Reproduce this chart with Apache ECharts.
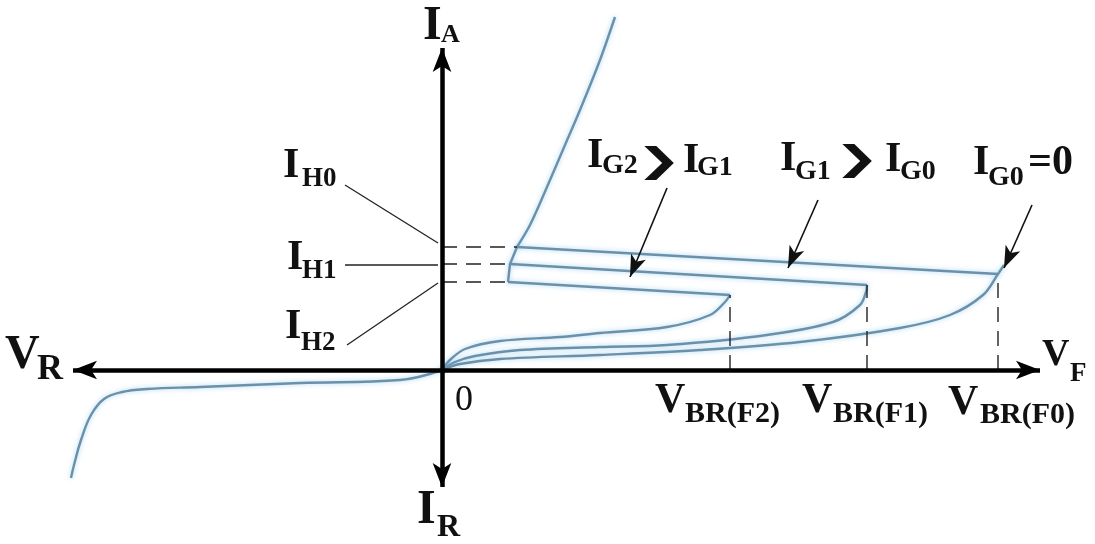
<!DOCTYPE html>
<html>
<head>
<meta charset="utf-8">
<script src="https://cdn.jsdelivr.net/npm/echarts@6/dist/echarts.min.js"></script>
<style>html,body{margin:0;padding:0;background:#fff}#chart{width:1095px;height:544px}</style>
</head>
<body>
<div id="chart"></div>
<script>
// Thyristor (SCR) static characteristic, anode voltage V vs anode current I (arbitrary units)

// Forward blocking branches from the origin up to breakover, one per gate current
const blockingIG2 = [[0,0],[0.8,1.0],[2.3,2.1],[5.8,2.9],[11.8,3.3],[15.8,3.7],[22.5,4.3],[26.8,5.5],[28.3,6.8],[28.8,7.5]];
const blockingIG1 = [[0,0],[1.3,0.8],[3.3,1.4],[7.8,2.0],[15.8,2.3],[22.5,2.5],[32.5,3.5],[39.1,4.8],[41.8,6.5],[42.4,7.8],[42.5,8.5]];
const blockingIG0 = [[0,0],[1.8,0.6],[5.8,1.1],[15.8,1.5],[25.8,2.0],[35.8,2.8],[45.8,4.2],[50.8,5.5],[54.1,7.5],[55.6,9.6],[56.2,10.5]];

// Breakover points (VBR(F2), VBR(F1), VBR(F0)) and the current at breakover
const breakoverV = [28.8, 42.5, 55.6];
const breakoverI = [7.5, 8.5, 9.6];

// Holding points IH2, IH1, IH0 (voltage, current)
const holdV = [6.6, 6.8, 7.5];
const holdI = [8.8, 10.6, 12.3];

// On-state (conducting) branch above IH0
const onState = [[7.5,12.3],[8.8,14.5],[10.5,18.3],[12.3,22.5],[13.8,26.0],[15.8,31.0],[17.3,35.3]];

// Reverse blocking / avalanche branch
const reverse = [[0,0],[-4.2,-1.0],[-14.2,-1.3],[-24.2,-1.7],[-29.5,-1.9],[-32.0,-2.2],[-33.8,-2.9],[-35.1,-4.5],[-36.1,-7.0],[-36.8,-9.5],[-37.1,-10.8]];

// Axis extents drawn as arrows
const vAxisRange = [-36.9, 59.8];
const iAxisRange = [-11.7, 32.2];

// Leader lines from the IH0 / IH1 / IH2 labels to the current axis
const leaderFrom = [[-9.7,18.5],[-9.7,10.5],[-9.5,2.5]];
const leaderTo = [[-0.4,12.7],[-0.4,10.5],[-0.4,8.7]];

// Pointer arrows from the gate-current labels to their branches
const pointerFrom = [[22.5,18.2],[37.6,17.0],[59.0,16.5]];
const pointerTo = [[18.8,9.3],[34.6,10.2],[56.2,10.2]];

// Text pieces: [text, left, centre-y, size, weight]
const textPieces = [
  ['I',423,27,48,'bold'],['A',441,35,26,'bold'],
  ['I',417,511,48,'bold'],['R',437,528,32,'bold'],
  ['I',283,166,42,'bold'],['H0',302,179,27,'bold'],
  ['I',287,258,42,'bold'],['H1',302,271,27,'bold'],
  ['I',285,327,42,'bold'],['H2',301,343,27,'bold'],
  ['I',587,156,42,'bold'],['G2',602,166,28,'bold'],['I',683,161,42,'bold'],['G1',697,168,28,'bold'],
  ['I',780,159,42,'bold'],['G1',795,172,28,'bold'],['I',885,160,42,'bold'],['G0',900,172,28,'bold'],
  ['I',973,163,42,'bold'],['G0',988,178,28,'bold'],['=0',1028,163,42,'bold'],
  ['V',655,401,42,'bold'],['BR(F2)',685,414,30,'bold'],
  ['V',802,401,42,'bold'],['BR(F1)',833,414,30,'bold'],
  ['V',948,403,42,'bold'],['BR(F0)',980,415,30,'bold'],
  ['V',5,356,48,'bold'],['R',37,370,36,'bold'],
  ['V',1042,355,38,'bold'],['F',1070,374,27,'bold'],
  ['0',455,401,36,'normal']
];
// "greater than" chevrons between the gate-current pairs
const chevrons = [[636,163],[834,161]];

const SERIF = '"Liberation Serif", "Times New Roman", serif';
const curveStyle = {color:'#6a90aa', width:2.4, shadowColor:'rgba(110,185,230,0.6)', shadowBlur:5};

function curve(data, smooth) {
  return {type:'line', data:data, smooth:smooth, symbol:'none', silent:true, lineStyle:curveStyle, z:3};
}
function plain(data, style) {
  return {type:'line', data:data, symbol:'none', silent:true, lineStyle:style, z:4};
}

const series = [
  curve(blockingIG2, 0.35), curve(blockingIG1, 0.35), curve(blockingIG0, 0.35),
  curve(onState, 0.3), curve(reverse, 0.4),
  curve(holdV.map((v, k) => [v, holdI[k]]), false)
];
// Return lines from each breakover point back to its holding point
for (let k = 0; k < 3; k++) {
  series.push(curve([[breakoverV[k], breakoverI[k]], [holdV[k], holdI[k]]], false));
}
const dashed = {color:'#222', width:1.4, type:[15,9]};
for (let k = 0; k < 3; k++) {
  series.push(plain([[0, holdI[k]], [holdV[k], holdI[k]]], dashed));
  series.push(plain([[breakoverV[k], 0], [breakoverV[k], breakoverI[k]]], dashed));
  series.push(plain([leaderFrom[k], leaderTo[k]], {color:'#222', width:1.3}));
}
// Axes with arrowheads
series.push({
  type:'line', data:[], silent:true, z:6,
  markLine:{
    silent:true, animation:false, symbol:['arrow','arrow'], symbolSize:[14,24],
    label:{show:false}, lineStyle:{color:'#000', width:4.5, type:'solid'},
    data:[
      [{coord:[vAxisRange[0],0]},{coord:[vAxisRange[1],0]}],
      [{coord:[0,iAxisRange[0]]},{coord:[0,iAxisRange[1]]}]
    ]
  }
});
// Pointer arrows
series.push({
  type:'line', data:[], silent:true, z:6,
  markLine:{
    silent:true, animation:false, symbol:['none','arrow'], symbolSize:[12,22],
    label:{show:false}, lineStyle:{color:'#111', width:1.6, type:'solid'},
    data: pointerFrom.map((p, k) => [{coord:p},{coord:pointerTo[k]}])
  }
});

const graphic = textPieces.map(p => ({
  type:'text', x:p[1], y:p[2], silent:true, z:10,
  style:{text:p[0], font:p[4] + ' ' + p[3] + 'px ' + SERIF, fill:'#111', textAlign:'left', textVerticalAlign:'middle'}
})).concat(chevrons.map(c => ({
  type:'text', x:c[0], y:c[1], scaleX:1.6, silent:true, z:10,
  style:{text:'\u276F', font:'bold 34px "DejaVu Sans"', fill:'#111', textAlign:'left', textVerticalAlign:'middle'}
})));

const chart = echarts.init(document.getElementById('chart'), null, {renderer:'canvas'});
chart.setOption({
  animation:false,
  backgroundColor:'#ffffff',
  grid:{left:0, right:0, top:0, bottom:0},
  xAxis:{type:'value', min:-44.2, max:65.3, show:false},
  yAxis:{type:'value', min:-17.4, max:37.0, show:false},
  series:series,
  graphic:graphic
});
</script>
</body>
</html>
